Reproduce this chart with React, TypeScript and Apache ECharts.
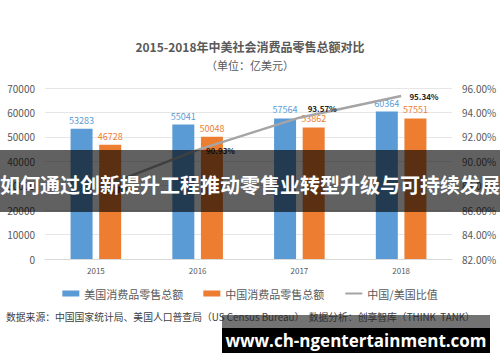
import React, { useEffect, useRef } from "react";
import * as echarts from "echarts";

const years = ["2015", "2016", "2017", "2018"];
const usRetail = [53283, 55041, 57564, 60364];
const cnRetail = [46728, 50048, 53862, 57551];
const ratio = [87.7, 90.93, 93.57, 95.34];
const ratioLabelOffsets = [[3, 0], [3, 1], [3, -9], [3, 0]];

const FONT = '"Noto Sans CJK SC", "Noto Sans", sans-serif';

export default function App() {
  const ref = useRef<HTMLDivElement>(null);
  useEffect(() => {
    document.body.style.margin = "0";
    const chart = echarts.init(ref.current!, null, { renderer: "svg" });
    chart.setOption({
      animation: false,
      backgroundColor: "#ffffff",
      textStyle: { fontFamily: FONT },
      title: [
        {
          text: "2015-2018年中美社会消费品零售总额对比",
          left: "center",
          top: 35,
          textStyle: { fontSize: 12, fontWeight: "bold", color: "#595959", fontFamily: FONT },
        },
        {
          text: "（单位：亿美元）",
          left: "center",
          top: 54,
          textStyle: { fontSize: 11, fontWeight: "normal", color: "#595959", fontFamily: FONT },
        },
      ],
      legend: {
        top: 283,
        left: "center",
        itemWidth: 17,
        itemHeight: 6,
        itemGap: 20,
        textStyle: { fontSize: 11, color: "#595959", fontFamily: FONT },
        data: [
          { name: "美国消费品零售总额", icon: "rect" },
          { name: "中国消费品零售总额", icon: "rect" },
          { name: "中国/美国比值" },
        ],
      },
      grid: { left: 45, right: 48, top: 88, bottom: 103 },
      xAxis: {
        type: "category",
        data: years,
        axisLine: { show: true, lineStyle: { color: "#d9d9d9" } },
        axisTick: { show: false },
        axisLabel: { fontSize: 8, color: "#595959", margin: 7 },
      },
      yAxis: [
        {
          type: "value",
          min: 0,
          max: 70000,
          interval: 10000,
          axisLine: { show: false },
          axisTick: { show: false },
          splitLine: { lineStyle: { color: "#e6e6e6" } },
          axisLabel: {
            fontSize: 10,
            color: "#595959",
            margin: 10,
            formatter: (v: number) => String(v),
          },
        },
        {
          type: "value",
          min: 82,
          max: 96,
          interval: 2,
          axisLine: { show: false },
          axisTick: { show: false },
          splitLine: { show: false },
          axisLabel: {
            fontSize: 10,
            color: "#595959",
            margin: 10,
            formatter: (v: number) => v.toFixed(2) + "%",
          },
        },
      ],
      series: [
        {
          name: "美国消费品零售总额",
          type: "bar",
          data: usRetail,
          barWidth: 22,
          barGap: "30%",
          itemStyle: { color: "#5b9bd5" },
          label: { show: true, position: "top", distance: 4, fontSize: 9, color: "#5b9bd5" },
        },
        {
          name: "中国消费品零售总额",
          type: "bar",
          data: cnRetail,
          barWidth: 22,
          barGap: "30%",
          itemStyle: { color: "#ed7d31" },
          label: { show: true, position: "top", distance: 4, fontSize: 9, color: "#ed7d31" },
        },
        {
          name: "中国/美国比值",
          type: "line",
          yAxisIndex: 1,
          data: ratio.map((v, i) => ({
            value: v,
            label: { offset: ratioLabelOffsets[i] },
          })),
          symbol: "circle",
          symbolSize: 0.5,
          showSymbol: true,
          itemStyle: { color: "rgba(165,165,165,0)" },
          lineStyle: { color: "#a5a5a5", width: 2.5 },
          label: {
            show: true,
            position: "right",
            distance: 5,
            fontSize: 8,
            fontWeight: "bold",
            color: "#262626",
            formatter: (p: any) => Number(p.value).toFixed(2) + "%",
          },
        },
      ],
      graphic: [
        {
          type: "text",
          left: 6,
          top: 312,
          z: 10,
          style: {
            text: "数据来源：中国国家统计局、美国人口普查局（US Census Bureau）  数据分析：创享智库（THINK  TANK）",
            fill: "#404040",
            font: "9.8px " + FONT,
          },
        },
        {
          type: "rect",
          shape: { x: 0, y: 150, width: 500, height: 62 },
          z: 100,
          style: { fill: "rgba(0,0,0,0.62)" },
        },
        {
          type: "text",
          x: 250,
          y: 184,
          z: 101,
          style: {
            text: "如何通过创新提升工程推动零售业转型升级与可持续发展",
            fill: "#ffffff",
            font: "bold 20px " + FONT,
            align: "center",
            verticalAlign: "middle",
          },
        },
        {
          type: "rect",
          shape: { x: 222, y: 315, width: 268, height: 13 },
          z: 100,
          style: { fill: "rgba(40,40,40,0.65)" },
        },
        {
          type: "rect",
          shape: { x: 222, y: 328, width: 268, height: 25 },
          z: 100,
          style: { fill: "#000000" },
        },
        {
          type: "text",
          x: 356,
          y: 340,
          z: 101,
          style: {
            text: "www.ch-ngentertainment.com",
            fill: "#ffffff",
            font: 'bold 17px "Open Sans", sans-serif',
            align: "center",
            verticalAlign: "middle",
          },
        },
      ],
    });
    return () => chart.dispose();
  }, []);
  return <div ref={ref} style={{ width: 500, height: 362 }} />;
}
